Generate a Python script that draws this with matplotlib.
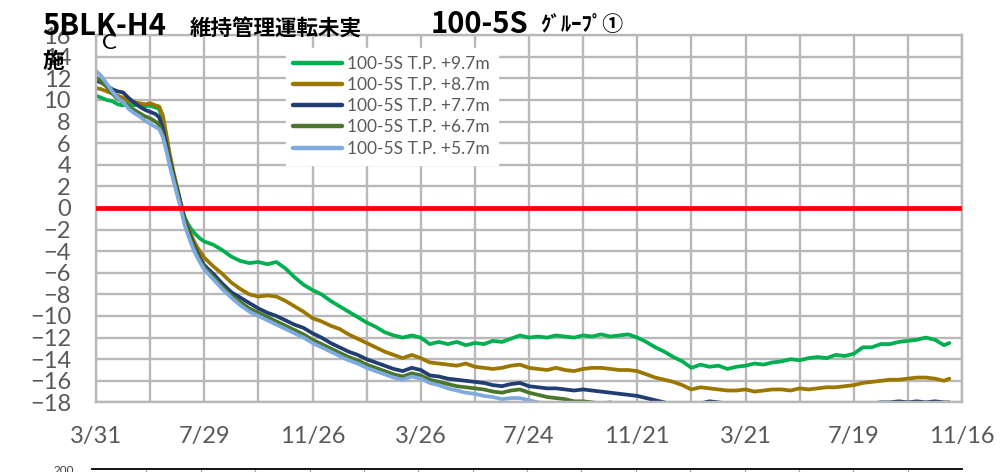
import matplotlib
matplotlib.use("Agg")
import matplotlib.pyplot as plt

# ---------------- data ----------------
days = [0, 6, 12, 18, 24, 30, 36, 42, 48, 54, 60, 66, 70, 74, 78, 82, 86, 90, 94, 98,
        102, 106, 110, 115, 120,
        130, 140, 150, 160, 170, 180, 190, 200, 210, 220,
        230, 240, 250, 260, 270, 280, 290, 300, 310, 320,
        330, 340, 350, 360, 370, 380, 390, 400, 410, 420,
        430, 440, 450, 460, 470, 480, 490, 500, 510, 520,
        530, 540, 550, 560, 570, 580, 590, 600, 610, 620,
        630, 640, 650, 660, 670, 680, 690, 700, 710, 720,
        730, 740, 750, 760, 770, 780, 790, 800, 810, 820,
        830, 840, 850, 860, 870, 880, 890, 900, 910, 920,
        930, 940, 946]

tp_9_7 = [10.4, 10.2, 10.0, 9.9, 9.6, 9.5, 9.7, 9.5, 9.6, 9.4, 9.5, 9.3, 9.2, 8.0, 6.0, 4.4, 3.0, 1.8, 0.4, -0.8,
          -1.5, -2.0, -2.4, -2.8, -3.1,
          -3.4, -3.9, -4.5, -4.9, -5.1, -5.0, -5.2, -5.0, -5.6, -6.4,
          -7.1, -7.6, -8.0, -8.6, -9.1, -9.6, -10.1, -10.6, -11.0, -11.5,
          -11.8, -12.0, -11.8, -12.0, -12.6, -12.4, -12.6, -12.4, -12.7, -12.5,
          -12.6, -12.3, -12.4, -12.1, -11.8, -12.0, -11.9, -12.0, -11.8, -11.9,
          -12.0, -11.8, -11.9, -11.7, -11.9, -11.8, -11.7, -12.0, -12.4, -12.9,
          -13.3, -13.8, -14.2, -14.8, -14.5, -14.7, -14.6, -14.9, -14.7, -14.6,
          -14.4, -14.5, -14.3, -14.2, -14.0, -14.1, -13.9, -13.8, -13.9, -13.6,
          -13.7, -13.5, -12.9, -12.9, -12.6, -12.6, -12.4, -12.3, -12.2, -12.0,
          -12.2, -12.7, -12.5]

tp_8_7 = [11.1, 11.0, 10.8, 10.6, 10.4, 10.2, 9.9, 9.8, 9.7, 9.6, 9.7, 9.5, 9.4, 8.6, 6.8, 4.9, 3.3, 1.9, 0.4, -0.9,
          -1.8, -2.6, -3.3, -4.0, -4.6,
          -5.4, -6.1, -6.9, -7.5, -8.0, -8.2, -8.1, -8.2, -8.6, -9.1,
          -9.6, -10.2, -10.5, -10.9, -11.2, -11.7, -12.1, -12.5, -12.9, -13.3,
          -13.6, -13.9, -13.6, -13.9, -14.3, -14.4, -14.5, -14.6, -14.4, -14.7,
          -14.8, -14.9, -14.8, -14.6, -14.5, -14.8, -14.9, -15.0, -14.8, -15.0,
          -15.1, -14.9, -14.8, -14.8, -14.9, -15.0, -15.0, -15.1, -15.4, -15.7,
          -15.9, -16.1, -16.4, -16.8, -16.6, -16.7, -16.8, -16.9, -16.9, -16.8,
          -17.0, -16.9, -16.8, -16.8, -16.9, -16.7, -16.8, -16.7, -16.6, -16.6,
          -16.5, -16.4, -16.2, -16.1, -16.0, -15.9, -15.9, -15.8, -15.7, -15.7,
          -15.8, -16.0, -15.8]

tp_7_7 = [11.8, 11.6, 11.3, 11.0, 10.8, 10.7, 10.2, 9.8, 9.4, 9.1, 8.9, 8.7, 8.4, 7.4, 5.9, 4.4, 3.0, 1.7, 0.4, -1.0,
          -2.0, -2.9, -3.7, -4.6, -5.3,
          -6.1, -7.0, -7.8, -8.3, -8.8, -9.3, -9.7, -10.0, -10.4, -10.8,
          -11.1, -11.6, -12.0, -12.5, -12.9, -13.3, -13.6, -14.0, -14.3, -14.6,
          -14.9, -15.1, -14.8, -15.0, -15.5, -15.6, -15.8, -15.9, -16.0, -16.1,
          -16.2, -16.4, -16.5, -16.3, -16.2, -16.5, -16.6, -16.7, -16.7, -16.8,
          -16.9, -16.8, -16.9, -17.0, -17.1, -17.2, -17.3, -17.4, -17.6, -17.8,
          -18.0, -18.2, -18.4, -18.6, -18.1, -17.9, -18.0, -18.1, -18.3, -18.5,
          -18.6, -18.7, -18.7, -18.8, -18.8, -18.9, -18.8, -18.7, -18.6, -18.4,
          -18.2, -18.3, -18.1, -18.1, -18.0, -18.0, -17.9, -18.0, -17.9, -18.0,
          -17.9, -18.0, -18.0]

tp_6_7 = [12.1, 11.7, 11.2, 10.6, 10.1, 9.8, 9.4, 9.1, 8.8, 8.5, 8.3, 8.0, 7.7, 6.8, 5.5, 4.1, 2.8, 1.5, 0.2, -1.2,
          -2.2, -3.1, -3.9, -4.8, -5.5,
          -6.4, -7.3, -8.1, -8.7, -9.3, -9.7, -10.1, -10.5, -10.9, -11.3,
          -11.7, -12.2, -12.6, -13.0, -13.4, -13.8, -14.1, -14.5, -14.8, -15.1,
          -15.4, -15.6, -15.3, -15.5, -15.9, -16.1, -16.3, -16.5, -16.6, -16.7,
          -16.8, -17.0, -17.1, -16.9, -16.8, -17.1, -17.3, -17.5, -17.6, -17.7,
          -17.9, -17.9, -18.0, -18.1, -18.0, -18.2, -18.3, -18.4, -18.6, -18.8,
          -19.0, -19.2, -19.4, -19.6, -19.5, -19.6, -19.7, -19.8, -19.9, -20.0,
          -20.1, -20.1, -20.2, -20.2, -20.3, -20.3, -20.2, -20.2, -20.1, -20.0,
          -19.9, -19.9, -19.8, -19.7, -19.6, -19.6, -19.5, -19.5, -19.4, -19.4,
          -19.4, -19.5, -19.5]

tp_5_7 = [12.7, 12.2, 11.5, 10.8, 10.2, 9.8, 9.2, 8.8, 8.5, 8.1, 7.8, 7.5, 7.3, 6.6, 5.3, 3.8, 2.5, 1.2, -0.1, -1.5,
          -2.5, -3.4, -4.2, -5.0, -5.7,
          -6.6, -7.5, -8.3, -9.0, -9.6, -10.0, -10.4, -10.8, -11.2, -11.6,
          -12.0, -12.5, -12.9, -13.3, -13.7, -14.1, -14.4, -14.8, -15.1, -15.4,
          -15.7, -15.9, -15.6, -15.8, -16.2, -16.4, -16.7, -16.9, -17.1, -17.2,
          -17.4, -17.5, -17.7, -17.6, -17.6, -17.8, -18.0, -18.1, -18.3, -18.5,
          -18.7, -18.9, -19.1, -19.3, -19.5, -19.7, -19.9, -20.0, -20.2, -20.4,
          -20.6, -20.8, -21.0, -21.2, -21.1, -21.2, -21.3, -21.4, -21.5, -21.6,
          -21.7, -21.7, -21.8, -21.8, -21.9, -21.9, -21.8, -21.8, -21.7, -21.6,
          -21.5, -21.5, -21.4, -21.3, -21.2, -21.2, -21.1, -21.1, -21.0, -21.0,
          -21.0, -21.1, -21.1]

series_labels = ["100-5S T.P. +9.7m", "100-5S T.P. +8.7m", "100-5S T.P. +7.7m",
                 "100-5S T.P. +6.7m", "100-5S T.P. +5.7m"]
series_colors = ["#00B050", "#9C7700", "#213D72", "#4B772C", "#7FAADF"]

tick_days = [0, 120, 240, 360, 480, 600, 720, 840, 960]
tick_labels = ["3/31", "7/29", "11/26", "3/26", "7/24", "11/21", "3/21", "7/19", "11/16"]
grid_days = [60, 180, 300, 420, 540, 660, 780, 900]
y_ticks = [-18, -16, -14, -12, -10, -8, -6, -4, -2, 0, 2, 4, 6, 8, 10, 12, 14, 16]

# ---------------- figure ----------------
W, H = 1001, 472
fig = plt.figure(figsize=(W / 100, H / 100), dpi=100)
fig.patch.set_facecolor("white")

ax = fig.add_axes([96 / W, 69.6 / H, 866 / W, 367.2 / H])
ax.set_xlim(0, 960)
ax.set_ylim(-18, 16)

grid_c = "#B8B8B8"
ax.set_yticks(y_ticks)
ax.set_xticks(tick_days)
ax.set_xticklabels(tick_labels)
ax.set_xticks(grid_days, minor=True)
ax.grid(True, which="major", axis="both", color=grid_c, lw=1.7, zorder=0)
ax.grid(True, which="minor", axis="x", color=grid_c, lw=1.7, zorder=0)
ax.set_axisbelow(True)
for s in ax.spines.values():
    s.set_color(grid_c)
    s.set_linewidth(1.7)

ax.tick_params(axis="both", which="both", length=0, colors="#595959")
ax.tick_params(axis="y", pad=18)
ax.tick_params(axis="x", pad=17)
for lab in ax.get_xticklabels() + ax.get_yticklabels():
    lab.set_fontfamily(["Lato", "DejaVu Sans"])
    lab.set_fontsize(17)
    lab.set_color("#595959")

all_series = [tp_9_7, tp_8_7, tp_7_7, tp_6_7, tp_5_7]
for vals, lab, col in zip(all_series, series_labels, series_colors):
    ax.plot(days, vals, color=col, lw=2.7, label=lab, zorder=2,
            solid_joinstyle="round", solid_capstyle="round")

ax.axhline(0, color="#FF0000", lw=3.4, zorder=4)

leg = ax.legend(loc="upper left", bbox_to_anchor=(0.219, 0.965), borderaxespad=0,
                frameon=True, fancybox=False, framealpha=1, edgecolor="white",
                facecolor="white", handlelength=2.8, handletextpad=0.3,
                labelspacing=0.3, borderpad=0.45,
                prop={"family": ["Lato", "DejaVu Sans"], "size": 12.5})
for t in leg.get_texts():
    t.set_color("#595959")
for h in leg.get_lines():
    h.set_linewidth(3.2)
leg.set_zorder(5)

# ---------------- titles ----------------
cjk = ["Noto Sans CJK JP", "DejaVu Sans"]


def px(x, y):
    return x / W, 1 - y / H


fig.text(*px(42, 35), "5BLK-H4", family=cjk, weight="bold", fontsize=21,
         ha="left", va="baseline", color="black", zorder=10)
fig.text(*px(190, 29), "維持管理運転未実", family=cjk, weight="bold", fontsize=15.5,
         ha="left", va="center", color="black", zorder=10)
fig.text(*px(42, 62), "施", family=cjk, weight="bold", fontsize=15.5,
         ha="left", va="center", color="black", zorder=10)
fig.text(*px(431, 33), "100-5S", family=cjk, weight="bold", fontsize=21,
         ha="left", va="baseline", color="black", zorder=10)
fig.text(*px(540, 31), "ｸﾞﾙｰﾌﾟ①", family=cjk, weight="bold", fontsize=15,
         ha="left", va="baseline", color="black", zorder=10)
fig.text(*px(102, 43), "C", family=["Lato", "DejaVu Sans"], fontsize=16,
         ha="left", va="center", color="black", zorder=10)

# ---------------- top edge of the next chart (cut off) ----------------
ax2 = fig.add_axes([92 / W, 0, 870 / W, 2.6 / H])
ax2.set_xlim(0, 16)
ax2.set_ylim(0, 1)
ax2.set_yticks([])
ax2.set_xticks(range(1, 16))
ax2.tick_params(axis="x", which="both", bottom=False, top=True, direction="in",
                length=4, color="#A0A0A0", labelbottom=False, labeltop=False)
for name, s in ax2.spines.items():
    s.set_visible(name == "top")
ax2.spines["top"].set_color("black")
ax2.spines["top"].set_linewidth(1.3)
ax2.patch.set_alpha(0)
fig.text(*px(64, 465), "200", family=["Lato", "DejaVu Sans"], fontsize=8.5,
         ha="center", va="top", color="#404040")

fig.savefig("out.png", dpi=100, facecolor="white")
